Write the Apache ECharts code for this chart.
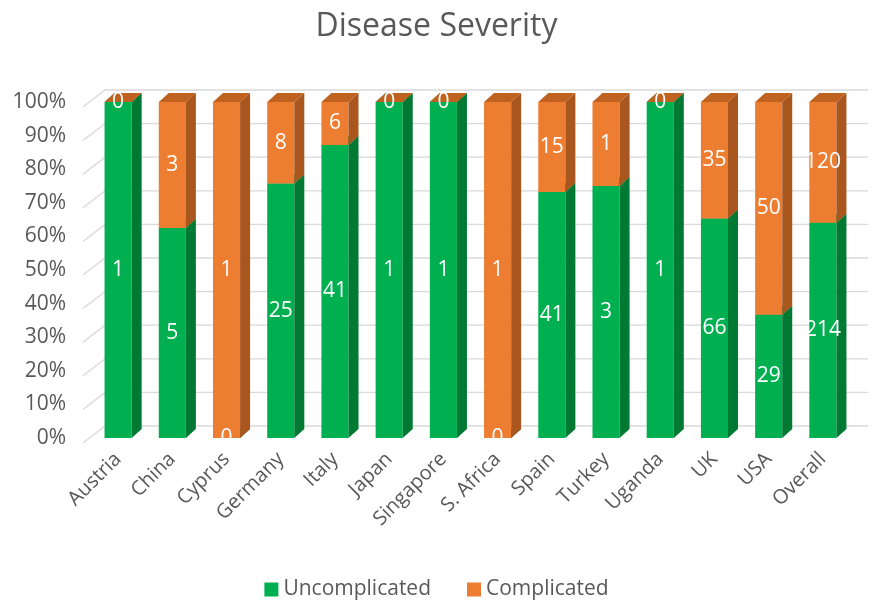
<!DOCTYPE html>
<html><head><meta charset="utf-8">
<script src="https://cdn.jsdelivr.net/npm/echarts@6/dist/echarts.min.js"></script>
<style>html,body{margin:0;padding:0;background:#fff}#c{width:873px;height:602px}</style>
</head><body><div id="c"></div>
<script>
const categories = ['Austria','China','Cyprus','Germany','Italy','Japan','Singapore','S. Africa','Spain','Turkey','Uganda','UK','USA','Overall'];
const uncomplicated = [1,5,0,25,41,1,1,0,41,3,1,66,29,214];
const complicated = [0,3,1,8,6,0,0,1,15,1,0,35,50,120];
const yTicks = [0,10,20,30,40,50,60,70,80,90,100];

const FONT = '"Open Sans", sans-serif';
const TXT = '#595959';
const DX = 10, DY = 9;
const totals = categories.map((_, i) => uncomplicated[i] + complicated[i]);
const pctU = uncomplicated.map((v, i) => v / totals[i] * 100);

const greenData = categories.map((_, i) => [i, 0, pctU[i], uncomplicated[i]]);
const orangeData = categories.map((_, i) => [i, pctU[i], 100, complicated[i]]);

function geom(params, api) {
  const i = api.value(0), lo = api.value(1), hi = api.value(2);
  const pLo = api.coord([i, lo]), pHi = api.coord([i, hi]);
  const bw = api.size([1, 0])[0] * 0.5;
  return { x: pLo[0] - bw / 2, yb: pLo[1], yt: pHi[1], bw: bw };
}
function barRender(front, side, top) {
  return function (params, api) {
    const g = geom(params, api);
    const x = g.x, yb = g.yb, yt = g.yt, bw = g.bw;
    return {
      type: 'group',
      children: [
        { type: 'rect', shape: { x: x, y: yt, width: bw, height: yb - yt }, style: { fill: front } },
        { type: 'polygon', shape: { points: [[x + bw, yb], [x + bw + DX, yb - DY], [x + bw + DX, yt - DY], [x + bw, yt]] }, style: { fill: side } },
        { type: 'polygon', shape: { points: [[x, yt], [x + DX, yt - DY], [x + bw + DX, yt - DY], [x + bw, yt]] }, style: { fill: top } }
      ]
    };
  };
}
function labelRender(params, api) {
  const g = geom(params, api);
  return {
    type: 'text',
    style: {
      text: String(api.value(3)), x: g.x + g.bw / 2, y: (g.yb + g.yt) / 2,
      fill: '#ffffff', fontSize: 21, fontFamily: FONT, align: 'center', verticalAlign: 'middle'
    }
  };
}
function gridRender(params, api) {
  const v = api.value(1);
  const p = api.coord([0, v]);
  const cs = params.coordSys;
  const y = p[1];
  return {
    type: 'polyline',
    shape: { points: [[cs.x - 8, y + 5], [cs.x + 14, y - 12], [cs.x + cs.width + 18, y - 12]] },
    style: { stroke: '#D9D9D9', lineWidth: 1.3, fill: null }
  };
}

const chart = echarts.init(document.getElementById('c'));
chart.setOption({
  backgroundColor: '#fff',
  animation: false,
  title: { text: 'Disease Severity', left: 'center', top: 6, textStyle: { fontFamily: FONT, fontSize: 32, fontWeight: 'normal', color: TXT } },
  legend: {
    data: ['Uncomplicated', 'Complicated'], top: 574, left: 'center', icon: 'rect', itemWidth: 14, itemHeight: 14, itemGap: 36,
    textStyle: { fontFamily: FONT, fontSize: 21, color: TXT }
  },
  grid: { left: 91, right: 23, top: 102, bottom: 164 },
  xAxis: {
    type: 'category', data: categories,
    axisLine: { show: false }, axisTick: { show: false },
    axisLabel: { rotate: 45, margin: 18, fontFamily: FONT, fontSize: 20, color: TXT, interval: 0 }
  },
  yAxis: {
    type: 'value', min: 0, max: 100, interval: 10,
    axisLine: { show: false }, axisTick: { show: false }, splitLine: { show: false },
    axisLabel: { formatter: '{value}%', margin: 25, padding: [5, 0, 0, 0], fontFamily: FONT, fontSize: 21, color: TXT }
  },
  series: [
    { type: 'custom', name: 'grid', data: yTicks.map(v => [0, v]), renderItem: gridRender, z: 1, silent: true },
    { type: 'custom', name: 'Uncomplicated', data: greenData, renderItem: barRender('#00B050', '#007A33', '#009A44'), itemStyle: { color: '#00B050' }, z: 2 },
    { type: 'custom', name: 'Complicated', data: orangeData, renderItem: barRender('#ED7D31', '#A9561F', '#C0621F'), itemStyle: { color: '#ED7D31' }, z: 2 },
    { type: 'custom', name: 'lblU', data: greenData, renderItem: labelRender, z: 5, silent: true },
    { type: 'custom', name: 'lblC', data: orangeData, renderItem: labelRender, z: 5, silent: true }
  ]
});
</script></body></html>
